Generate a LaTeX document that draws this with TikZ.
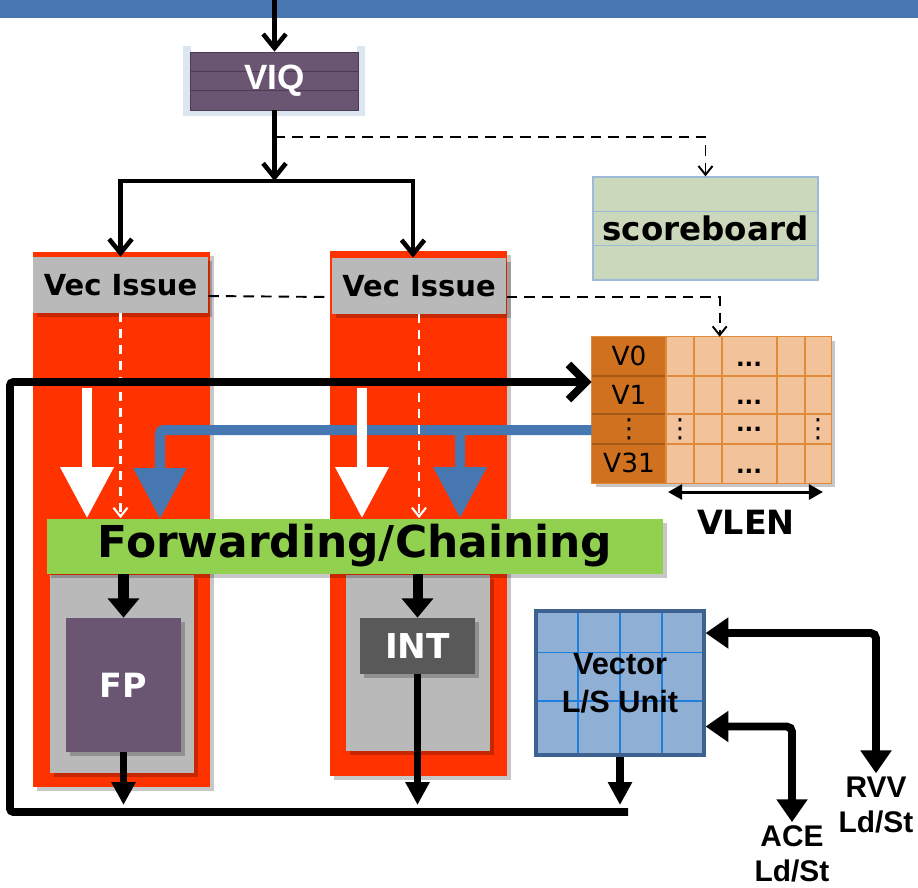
\documentclass[tikz,border=0pt]{standalone}
\usepackage{fontspec}
\setmainfont{DejaVu Sans}
\newfontfamily\arialfont{Liberation Sans}
\usepackage{tikz}
\usetikzlibrary{calc,arrows.meta,shadows,positioning}

\definecolor{barBlue}{HTML}{4677B0}
\definecolor{trayBlue}{HTML}{DCE6F1}
\definecolor{queuePurple}{HTML}{6A5573}
\definecolor{queueLine}{HTML}{4A3A52}
\definecolor{sbGreen}{HTML}{CCD8BB}
\definecolor{sbLine}{HTML}{9DBAD9}
\definecolor{stageRed}{HTML}{FF3300}
\definecolor{stageGray}{HTML}{B8B9B8}
\definecolor{intGray}{HTML}{595959}
\definecolor{fwdGreen}{HTML}{92D050}
\definecolor{regDark}{HTML}{D0711F}
\definecolor{regCell}{HTML}{F2C29A}
\definecolor{regLine}{HTML}{E08A3C}
\definecolor{regSep}{HTML}{A65816}
\definecolor{lsFill}{HTML}{8FAFD4}
\definecolor{lsBorder}{HTML}{3D6291}
\definecolor{lsGrid}{HTML}{1F7FE0}

\tikzset{
myShadow/.style={drop shadow={shadow xshift=2.5pt,shadow yshift=-2.5pt,opacity=0.22,fill=black}}
, myBar/.style={
	rectangle, fill=barBlue, inner sep=0pt,
	minimum width=18.36cm, minimum height=0.36cm
}
, myTray/.style={draw=trayBlue, line width=4pt}
, myQueue/.style={
	rectangle, fill=queuePurple, draw=queueLine, thin,
	minimum width=3.36cm, minimum height=1.16cm, inner sep=0pt,
	text=white, font=\arialfont\bfseries\fontsize{20}{24}\selectfont,
	path picture = {
		\draw[queueLine, thick]
		($(path picture bounding box.north west)!1/3!(path picture bounding box.south west)$) -- ($(path picture bounding box.north east)!1/3!(path picture bounding box.south east)$)
		($(path picture bounding box.north west)!2/3!(path picture bounding box.south west)$) -- ($(path picture bounding box.north east)!2/3!(path picture bounding box.south east)$);
	}
}
, myScore/.style={
	rectangle, fill=sbGreen, draw=sbLine, thick,
	minimum width=4.5cm, minimum height=2.06cm, inner sep=0pt,
	font=\bfseries\fontsize{18.5}{22}\selectfont,
	path picture = {
		\draw[sbLine, thick]
		($(path picture bounding box.north west)!1/3!(path picture bounding box.south west)$) -- ($(path picture bounding box.north east)!1/3!(path picture bounding box.south east)$)
		($(path picture bounding box.north west)!2/3!(path picture bounding box.south west)$) -- ($(path picture bounding box.north east)!2/3!(path picture bounding box.south east)$);
	}
}
% pipeline
, myStage/.style={rectangle, fill=stageRed, minimum width=3.54cm, inner sep=0pt, myShadow}
, myIssue/.style={
	rectangle, fill=stageGray, inner sep=0pt,
	minimum width=3.5cm, minimum height=1.12cm,
	font=\bfseries\fontsize{16.5}{20}\selectfont, myShadow
}
, myUnitBox/.style={rectangle, fill=stageGray, minimum width=2.88cm, inner sep=0pt, myShadow}
, myFP/.style={
	rectangle, fill=queuePurple, text=white, inner sep=0pt,
	minimum width=2.3cm, minimum height=2.68cm,
	font=\bfseries\fontsize{19}{23}\selectfont, myShadow
}
, myInt/.style={
	rectangle, fill=intGray, text=white, inner sep=0pt,
	minimum width=2.3cm, minimum height=1.12cm,
	font=\bfseries\fontsize{19.5}{23}\selectfont, myShadow
}
, myFwd/.style={
	rectangle, fill=fwdGreen, inner sep=0pt,
	minimum width=12.32cm, minimum height=1.1cm,
	font=\bfseries\fontsize{25}{30}\selectfont, myShadow
}
% register file
, myRegFile/.style={rectangle, fill=regCell, minimum width=4.78cm, minimum height=2.92cm, inner sep=0pt, myShadow}
, myRegName/.style={inner sep=0pt, font=\fontsize{15}{18}\selectfont}
, myRegDots/.style={inner sep=0pt, font=\bfseries\fontsize{13}{16}\selectfont}
, myVlen/.style={inner sep=0pt, font=\bfseries\fontsize{19}{23}\selectfont}
% load/store
, myLS/.style={
	rectangle, fill=lsFill, draw=lsBorder, line width=1.8pt,
	minimum width=3.36cm, minimum height=2.88cm, inner sep=0pt, align=center,
	font=\arialfont\bfseries\fontsize{17.5}{21.5}\selectfont,
	path picture = {
		\foreach \f in {0.25,0.5,0.75}
		\draw[lsGrid, thick] ($(path picture bounding box.north west)!\f!(path picture bounding box.north east)$) -- ($(path picture bounding box.south west)!\f!(path picture bounding box.south east)$);
		\foreach \f in {0.29,0.625}
		\draw[lsGrid, thick] ($(path picture bounding box.north west)!\f!(path picture bounding box.south west)$) -- ($(path picture bounding box.north east)!\f!(path picture bounding box.south east)$);
	}
}
, myPort/.style={inner sep=2pt, align=center, font=\arialfont\bfseries\fontsize{17}{19.7}\selectfont}
% links
, myFeed/.style={line width=2.6pt, -{Straight Barb[length=8pt,width=13pt]}}
, myDashLine/.style={line width=1.1pt, dash pattern=on 6pt off 4pt}
, myDash/.style={myDashLine, -{Straight Barb[length=5pt,width=8pt]}}
, myWhiteDash/.style={white, line width=1.2pt, dash pattern=on 5pt off 4pt, -{Straight Barb[length=5pt,width=8pt]}}
, myWhite/.style={white, line width=5.7pt, -{Triangle[length=29pt,width=29pt]}}
, myBus/.style={barBlue, line width=5.7pt, rounded corners=2pt, -{Triangle[length=29pt,width=29pt]}}
, myDrop/.style={line width=5.7pt, -{Triangle[length=11pt,width=17.5pt]}}
, myOut/.style={line width=4.5pt, -{Triangle[length=13pt,width=13pt]}}
, myLoop/.style={line width=4.5pt, rounded corners=2pt, -{Straight Barb[length=10pt,width=20pt]}}
, myPortArrow/.style={line width=4.5pt, rounded corners=3pt, {Triangle[length=13pt,width=17pt]}-{Triangle[length=13pt,width=17pt]}}
, myVlenArrow/.style={line width=1.7pt, {Triangle[length=8pt,width=8.5pt]}-{Triangle[length=8pt,width=8.5pt]}}
}

\begin{document}
\begin{tikzpicture}[x=0.02cm,y=-0.02cm]
	\useasboundingbox (0,0) rectangle (918,887);
	% nodes
	\node[myBar] (bar) at (459,9) {};
	\draw[myTray] (187,46) -- (187,112) -- (361,112) -- (361,46);
	\node[myQueue] (viq) at (274.5,81) {VIQ};
	\node[myScore] (sb) at (705.5,228.5) {scoreboard};
	% stages
	\node[myStage, minimum height=10.7cm] (colA) at (121.5,519.5) {};
	\node[myStage, minimum height=10.5cm] (colB) at (418.5,513.5) {};
	\node[myIssue] (issA) at (120.5,285) {Vec Issue};
	\node[myIssue] (issB) at (419,286) {Vec Issue};
	\node[myUnitBox, minimum height=3.96cm] (boxA) at (122,674) {};
	\node[myUnitBox, minimum height=3.52cm] (boxB) at (418,663) {};
	\node[myFP] (fp) at (123.5,685) {FP};
	\node[myInt] (int) at (417.5,646) {INT};
	\node[myFwd] (fwd) at (355,546) {Forwarding/Chaining};
	% register file
	\node[myRegFile] (rf) at (711.5,410) {};
	\fill[regDark] (rf.north west) rectangle (666,483);
	\foreach \y in {376,414,444} \draw[regSep, thick] (592,\y) -- (666,\y);
	\foreach \y in {376,414,444} \draw[regLine, thick] (666,\y) -- (831,\y);
	\foreach \x in {666,694,722,777,805} \draw[regLine, thick] (\x,337) -- (\x,483);
	\draw[regLine, thick] (rf.north west) rectangle (rf.south east);
	\node[myRegName] (v0) at (629,356) {V0};
	\node[myRegName] (v1) at (629,395) {V1};
	\node[myRegName] (vd) at (629,429) {⋮};
	\node[myRegName] (v31) at (629,463) {V31};
	\node[myRegName] (cdA) at (680,429) {⋮};
	\node[myRegName] (cdB) at (818,429) {⋮};
	\node[myRegDots] (d0) at (749,364) {...};
	\node[myRegDots] (d1) at (749,402) {...};
	\node[myRegDots] (d2) at (749,429) {...};
	\node[myRegDots] (d3) at (749,471) {...};
	\coordinate (vlA) at (668,492);
	\coordinate (vlB) at (823,492);
	\draw[myVlenArrow] (vlA) -- (vlB);
	\node[myVlen] (vlen) at (746,522) {VLEN};
	% load/store
	\node[myLS] (ls) at (620,683) {Vector\\L/S Unit};
	\node[myPort] (rvv) at (876,805) {RVV\\Ld/St};
	\node[myPort] (ace) at (792,854) {ACE\\Ld/St};

	% links
	\draw[myFeed] (viq.north |- bar.north) -- (viq.north);
	\coordinate (tap) at (274.5,137);
	\coordinate (split) at (274.5,181);
	\draw[myFeed] (viq.south) -- (split);
	\draw[myFeed] (split) -| (issA.north);
	\draw[myFeed] (split) -| ([xshift=-0.12cm]issB.north);
	\draw[myDash] (tap) -| (sb.north);
	\draw[myDashLine] ([yshift=-0.22cm]issA.east) -- ([yshift=-0.22cm]issB.west);
	\draw[myDash] ([yshift=-0.22cm]issB.east) -| ([xshift=2.56cm]rf.north west);

	% operands
	\coordinate (busA) at (160,519);
	\coordinate (busJ) at (460,430);
	\draw[myBus] ([yshift=-0.4cm]rf.west) -| (busA);
	\draw[myBus] (busJ) -- (busJ |- fwd.north);
	\coordinate (wA) at (87,388);
	\coordinate (wB) at (362,388);
	\draw[myWhite] (wA) -- (wA |- fwd.north);
	\draw[myWhite] (wB) -- (wB |- fwd.north);
	\draw[myWhiteDash] (issA.south) -- (issA.south |- fwd.north);
	\draw[myWhiteDash] (issB.south) -- (issB.south |- fwd.north);

	% units
	\draw[myDrop] (fwd.south -| fp.north) -- (fp.north);
	\draw[myDrop] (fwd.south -| int.north) -- (int.north);
	\coordinate (outY) at (0,805);
	\draw[myOut] (fp.south) -- (fp.south |- outY);
	\draw[myOut] (int.south) -- (int.south |- outY);
	\draw[myOut] (ls.south) -- (ls.south |- outY);

	% write back
	\coordinate (loopA) at (628,812);
	\coordinate (loopB) at (10,812);
	\coordinate (loopC) at (10,382);
	\draw[myLoop] (loopA) -- (loopB) -- (loopC) -- (loopC -| rf.west);

	% ports
	\draw[myPortArrow] (rvv.north) |- ([yshift=1cm]ls.east);
	\draw[myPortArrow] (ace.north) |- ([yshift=-0.87cm]ls.east);
\end{tikzpicture}
\end{document}
